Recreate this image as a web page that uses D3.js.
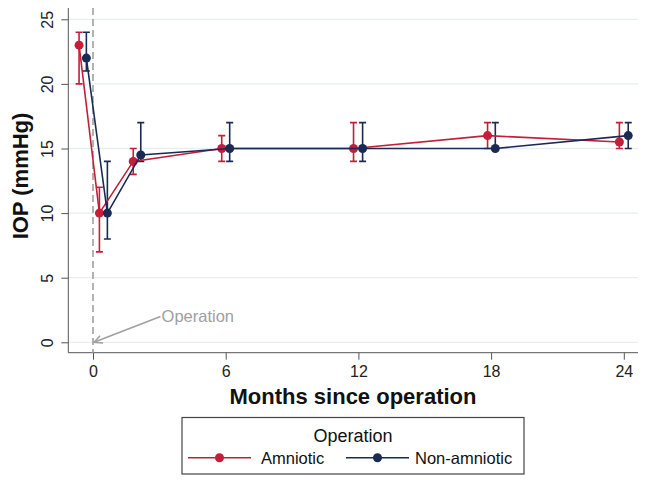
<!DOCTYPE html>
<html><head><meta charset="utf-8">
<script src="https://cdn.jsdelivr.net/npm/d3@7"></script>
<style>body{margin:0;background:#fff}svg{display:block}text{font-family:"Liberation Sans",Arial,sans-serif}</style>
</head><body><svg id="c" width="647" height="483"></svg>
<script>
const series = ["Amniotic", "Non-amniotic"];
const colors = ["#c41e3a", "#1a2a52"];
const amnioticX = [-0.63, 0.29, 1.82, 5.82, 11.78, 17.84, 23.8];
const amnioticMean = [23, 10, 14, 15, 15, 16, 15.5];
const amnioticLow = [20, 7, 13, 14, 14, 15, 15];
const amnioticHigh = [24, 12, 15, 16, 17, 17, 17];
const nonX = [-0.3, 0.65, 2.16, 6.18, 12.19, 18.19, 24.2];
const nonMean = [22, 10, 14.5, 15, 15, 15, 16];
const nonLow = [21, 8, 14, 14, 14, 15, 15];
const nonHigh = [24, 14, 17, 17, 17, 17, 17];
const xTicks = [0, 6, 12, 18, 24];
const yTicks = [0, 5, 10, 15, 20, 25];

const svg = d3.select("#c");
const L = 68.3, R = 638, T = 8, B = 352.7;
const x = d3.scaleLinear().domain([0, 24]).range([93, 623.8]);
const y = d3.scaleLinear().domain([0, 25]).range([342.3, 19.3]);

// gridlines
svg.append("g").selectAll("line").data(yTicks).join("line")
  .attr("x1", L).attr("x2", R).attr("y1", d => y(d)).attr("y2", d => y(d))
  .attr("stroke", "#e6eef1").attr("stroke-width", 1.3);

// axes
const gy = svg.append("g").attr("transform", `translate(${L},0)`)
  .call(d3.axisLeft(y).tickValues(yTicks).tickSize(7).tickPadding(6));
gy.select(".domain").attr("d", `M0,${T}V${B}`).attr("stroke", "#555");
gy.selectAll(".tick line").attr("stroke", "#555");
gy.selectAll(".tick text").attr("font-size", 16).attr("fill", "#222")
  .attr("transform", "rotate(-90)").attr("text-anchor", "middle")
  .attr("x", 0).attr("y", -15).attr("dy", 0);

const gx = svg.append("g").attr("transform", `translate(0,${B})`)
  .call(d3.axisBottom(x).tickValues(xTicks).tickSize(7).tickPadding(6));
gx.select(".domain").attr("d", `M${L},0H${R}`).attr("stroke", "#555");
gx.selectAll(".tick line").attr("stroke", "#555");
gx.selectAll(".tick text").attr("font-size", 16).attr("fill", "#222");

// titles
svg.append("text").attr("x", 353).attr("y", 404).attr("text-anchor", "middle")
  .attr("font-size", 22).attr("font-weight", "bold").attr("fill", "#111")
  .text("Months since operation");
svg.append("text").attr("transform", "translate(28,176) rotate(-90)").attr("text-anchor", "middle")
  .attr("font-size", 22).attr("font-weight", "bold").attr("fill", "#111")
  .text("IOP (mmHg)");

// operation reference line
svg.append("line").attr("x1", x(0)).attr("x2", x(0)).attr("y1", T).attr("y2", B)
  .attr("stroke", "#a0a0a0").attr("stroke-width", 1.6).attr("stroke-dasharray", "7,4");

// data
const data = [
  amnioticX.map((v, i) => ({x: v, m: amnioticMean[i], lo: amnioticLow[i], hi: amnioticHigh[i]})),
  nonX.map((v, i) => ({x: v, m: nonMean[i], lo: nonLow[i], hi: nonHigh[i]}))
];
const line = d3.line().x(d => x(d.x)).y(d => y(d.m));
data.forEach((s, k) => {
  const g = svg.append("g");
  const c = colors[k];
  g.selectAll(".eb").data(s).join("path")
    .attr("d", d => `M${x(d.x)},${y(d.lo)}V${y(d.hi)}M${x(d.x)-3.5},${y(d.lo)}h7M${x(d.x)-3.5},${y(d.hi)}h7`)
    .attr("stroke", c).attr("stroke-width", 1.6).attr("fill", "none");
});
data.forEach((s, k) => {
  const g = svg.append("g");
  const c = colors[k];
  g.append("path").datum(s).attr("d", line).attr("fill", "none").attr("stroke", c).attr("stroke-width", 1.6);
  g.selectAll("circle").data(s).join("circle")
    .attr("cx", d => x(d.x)).attr("cy", d => y(d.m)).attr("r", 4.5).attr("fill", c);
});

// annotation
const ax0 = x(3.05), ay0 = y(2.0), ax1 = x(0) + 1, ay1 = y(0);
svg.append("line").attr("x1", ax0).attr("y1", ay0).attr("x2", ax1).attr("y2", ay1)
  .attr("stroke", "#a0a0a0").attr("stroke-width", 1.5);
const ang = Math.atan2(ay0 - ay1, ax0 - ax1);
const ah = 9, aw = 0.45;
svg.append("path")
  .attr("d", `M${ax1 + ah*Math.cos(ang+aw)},${ay1 + ah*Math.sin(ang+aw)}L${ax1},${ay1}L${ax1 + ah*Math.cos(ang-aw)},${ay1 + ah*Math.sin(ang-aw)}`)
  .attr("stroke", "#a0a0a0").attr("stroke-width", 1.5).attr("fill", "none");
svg.append("text").attr("x", x(3.1)).attr("y", y(2) + 6).attr("font-size", 16.5).attr("fill", "#a0a0a0")
  .text("Operation");

// legend
const lg = svg.append("g");
lg.append("rect").attr("x", 182).attr("y", 417.5).attr("width", 342).attr("height", 56.5)
  .attr("fill", "#fff").attr("stroke", "#444").attr("stroke-width", 1.2);
lg.append("text").attr("x", 353).attr("y", 442).attr("text-anchor", "middle")
  .attr("font-size", 18).attr("fill", "#111").text("Operation");
const items = [{x1: 188, x2: 251, tx: 261}, {x1: 346, x2: 409, tx: 415}];
series.forEach((s, i) => {
  const it = items[i];
  lg.append("line").attr("x1", it.x1).attr("x2", it.x2).attr("y1", 457.7).attr("y2", 457.7)
    .attr("stroke", colors[i]).attr("stroke-width", 1.6);
  lg.append("circle").attr("cx", (it.x1 + it.x2) / 2).attr("cy", 457.7).attr("r", 4.5).attr("fill", colors[i]);
  lg.append("text").attr("x", it.tx).attr("y", 463.5).attr("font-size", 16.5).attr("fill", "#111").text(s);
});
</script></body></html>
